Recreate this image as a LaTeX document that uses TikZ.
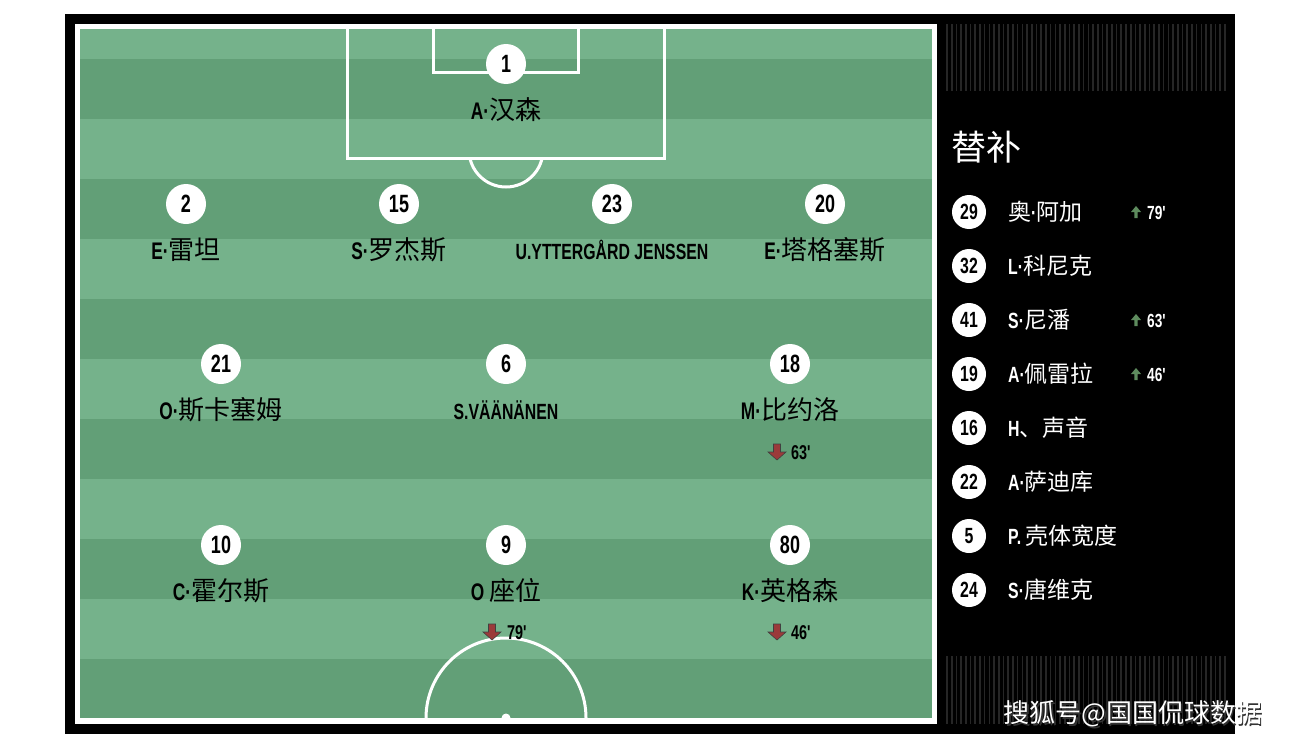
\documentclass[tikz,border=0pt]{standalone}
\usepackage{fontspec}
\newfontfamily\cjk{Noto Sans CJK SC}
\newfontfamily\cond{Liberation Sans}[FakeStretch=0.72]
\definecolor{pl}{HTML}{75B28B}
\definecolor{pd}{HTML}{629F77}
\definecolor{subred}{HTML}{9B3A3A}
\definecolor{subgreen}{HTML}{5E8C5E}
\definecolor{stripecol}{HTML}{262626}
\newcommand\pn[2]{{\cond\bfseries\fontsize{24}{24}\selectfont #1}{\cjk\fontsize{26}{26}\selectfont #2}}
\newcommand\sn[2]{{\cond\bfseries\fontsize{22}{22}\selectfont #1}{\cjk\fontsize{23}{23}\selectfont #2}}
\tikzset{
  num/.style={circle, fill=white, minimum size=40pt, inner sep=0pt, text=black, font=\cond\bfseries\fontsize{25}{25}\selectfont},
  pname/.style={anchor=base, inner sep=0pt, text=black},
  subnum/.style={circle, fill=white, minimum size=34pt, inner sep=0pt, text=black, font=\cond\bfseries\fontsize{22}{22}\selectfont},
  subname/.style={anchor=base west, inner sep=0pt, text=white},
  ptime/.style={anchor=base west, inner sep=0pt, text=black, font=\cond\bfseries\fontsize{20}{20}\selectfont},
  stime/.style={anchor=base west, inner sep=0pt, text=white, font=\cond\bfseries\fontsize{19}{19}\selectfont},
  pline/.style={draw=white, line width=3pt},
  downarr/.pic={\filldraw[fill=subred, draw=black!75, line width=0.6pt] (-3.5,-8)--(3.5,-8)--(3.5,0)--(9,0)--(0,8)--(-9,0)--(-3.5,0)--cycle;},
  uparr/.pic={\fill[subgreen] (-1.7,6)--(1.7,6)--(1.7,0)--(5,0)--(0,-6)--(-5,0)--(-1.7,0)--cycle;}
}
\begin{document}
\begin{tikzpicture}[x=1pt,y=-1pt]
\useasboundingbox (0,0) rectangle (1290,744);
\fill[white] (0,0) rectangle (1290,744);
\fill[black] (65,14) rectangle (1235,734);
% pitch
\fill[white] (75,24) rectangle (937,724);
\fill[pl] (80,29) rectangle (932,718);
\foreach \y in {59,179,299,419,539} \fill[pd] (80,\y) rectangle (932,\y+60);
\fill[pd] (80,659) rectangle (932,718);
\begin{scope}
  \clip (80,29) rectangle (932,718);
  \draw[pline] (347,20) -- (347,158) -- (664,158) -- (664,20);
  \draw[pline] (433,20) -- (433,72) -- (578,72) -- (578,20);
  \begin{scope}
    \clip (80,159.5) rectangle (932,718);
    \draw[pline] (506,150) circle[radius=37pt];
  \end{scope}
  \draw[pline] (506,718) circle[radius=80pt];
  \fill[white] (506,718) circle[radius=4.5pt];
\end{scope}
% side stripes
\foreach \i in {0,...,59} {
  \draw[stripecol, line width=1.6pt] ({947+\i*4.71},24) -- ({947+\i*4.71},91);
  \draw[stripecol, line width=1.6pt] ({947+\i*4.71},656) -- ({947+\i*4.71},724);
}
% players
\node[num] (n1) at (506,64) {1};
\node[pname] (p1) at (506,119) {\pn{A·}{汉森}};
\node[num] (n2) at (186,204) {2};
\node[pname] (p2) at (186,259) {\pn{E·}{雷坦}};
\node[num] (n15) at (399,204) {15};
\node[pname] (p15) at (399,259) {\pn{S·}{罗杰斯}};
\node[num] (n23) at (612,204) {23};
\node[pname] (p23) at (612,259) {{\cond\bfseries\fontsize{22}{22}\selectfont U.YTTERGÅRD JENSSEN}};
\node[num] (n20) at (825,204) {20};
\node[pname] (p20) at (825,259) {\pn{E·}{塔格塞斯}};
\node[num] (n21) at (221,364) {21};
\node[pname] (p21) at (221,419) {\pn{O·}{斯卡塞姆}};
\node[num] (n6) at (506,364) {6};
\node[pname] (p6) at (506,419) {{\cond\bfseries\fontsize{22}{22}\selectfont S.VÄÄNÄNEN}};
\node[num] (n18) at (790,364) {18};
\node[pname] (p18) at (790,419) {\pn{M·}{比约洛}};
\node[num] (n10) at (221,545) {10};
\node[pname] (p10) at (221,600) {\pn{C·}{霍尔斯}};
\node[num] (n9) at (506,545) {9};
\node[pname] (p9) at (506,600) {\pn{O }{座位}};
\node[num] (n80) at (790,545) {80};
\node[pname] (p80) at (790,600) {\pn{K·}{英格森}};
% substitutions on pitch
\pic at (777,452) {downarr};
\node[ptime] (t18) at (791,459) {63'};
\pic at (492,632) {downarr};
\node[ptime] (t9) at (507,639) {79'};
\pic at (777,632) {downarr};
\node[ptime] (t80) at (791,639) {46'};
% bench
\node[anchor=base west, inner sep=0pt, text=white, font=\cjk\fontsize{35}{35}\selectfont] (bench) at (951,160) {替补};
\node[subnum] (s29) at (969,212) {29};
\node[subname] (sn29) at (1008,220) {{\cjk\fontsize{23}{23}\selectfont 奥}{\cond\bfseries\fontsize{22}{22}\selectfont ·}{\cjk\fontsize{23}{23}\selectfont 阿加}};
\pic at (1136,212) {uparr};
\node[stime] (st29) at (1147,219) {79'};
\node[subnum] (s32) at (969,266) {32};
\node[subname] (sn32) at (1008,274) {\sn{L·}{科尼克}};
\node[subnum] (s41) at (969,320) {41};
\node[subname] (sn41) at (1008,328) {\sn{S·}{尼潘}};
\pic at (1136,320) {uparr};
\node[stime] (st41) at (1147,327) {63'};
\node[subnum] (s19) at (969,374) {19};
\node[subname] (sn19) at (1008,382) {\sn{A·}{佩雷拉}};
\pic at (1136,374) {uparr};
\node[stime] (st19) at (1147,381) {46'};
\node[subnum] (s16) at (969,428) {16};
\node[subname] (sn16) at (1008,436) {\sn{H}{、声音}};
\node[subnum] (s22) at (969,482) {22};
\node[subname] (sn22) at (1008,490) {\sn{A·}{萨迪库}};
\node[subnum] (s5) at (969,536) {5};
\node[subname] (sn5) at (1008,544) {\sn{P. }{壳体宽度}};
\node[subnum] (s24) at (969,590) {24};
\node[subname] (sn24) at (1008,598) {\sn{S·}{唐维克}};
% watermark
\node[text=black!80, font=\cjk\fontsize{26}{26}\selectfont, inner sep=0pt] (wms) at (1134.5,715.5) {搜狐号@国国侃球数据};
\node[text=white, font=\cjk\fontsize{26}{26}\selectfont, inner sep=0pt] (wm) at (1133,714) {搜狐号@国国侃球数据};
\end{tikzpicture}
\end{document}
